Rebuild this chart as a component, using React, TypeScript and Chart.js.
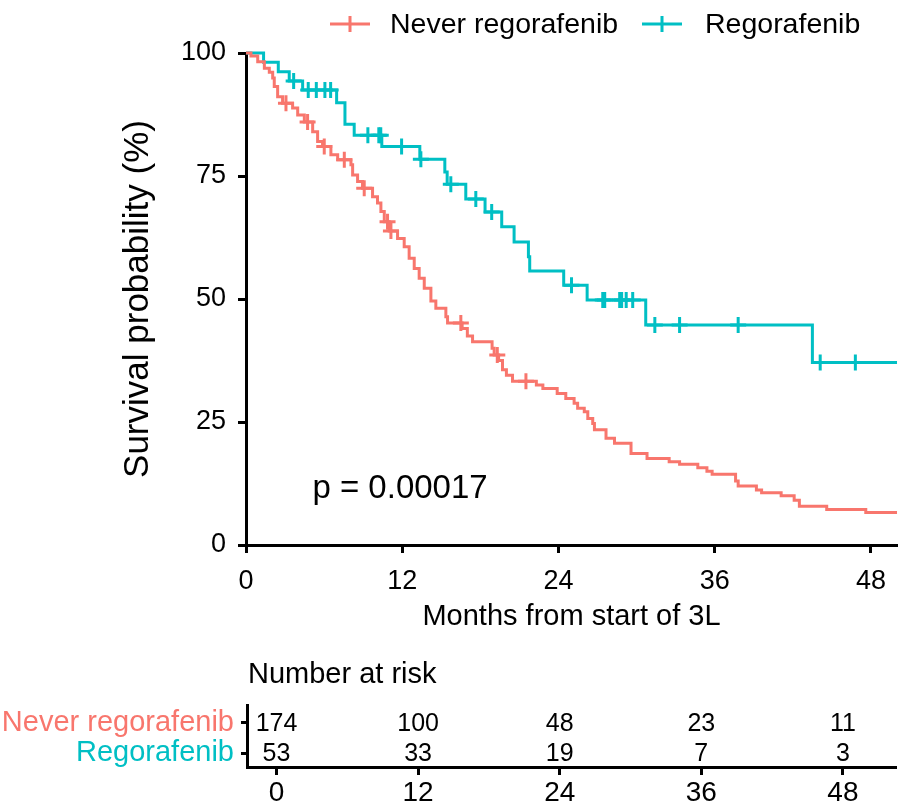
import React, { useEffect, useRef } from 'react';
import { Chart, registerables } from 'chart.js';

Chart.register(...registerables);

const FONT = '"Liberation Sans", Arial, Helvetica, sans-serif';
const RED = '#F8766D';
const TEAL = '#00BFC4';

const groupNames = ['Never regorafenib', 'Regorafenib'];

// Kaplan-Meier steps: month of each drop and survival (%) just after it
const neverTimes = [0, 0.38, 0.9, 1.41, 1.79, 2.05, 2.17, 2.43, 2.81, 3.58, 3.97, 4.48, 5.12, 5.5, 5.88, 6.52, 7.04, 8.06, 8.19, 8.57, 8.95, 9.72, 10.1, 10.36, 10.62, 11.0, 11.64, 12.15, 12.53, 12.92, 13.3, 13.69, 14.2, 14.58, 15.35, 15.48, 16.6, 17.0, 17.4, 18.9, 19.06, 19.4, 19.7, 20.0, 20.47, 22.3, 22.8, 23.9, 24.56, 25.2, 25.47, 25.98, 26.25, 26.63, 26.76, 27.65, 28.3, 29.57, 30.8, 32.5, 33.3, 34.7, 35.4, 35.8, 37.6, 37.8, 39.2, 39.6, 41.1, 42.1, 42.5, 44.6, 47.6];
const neverSurv = [100, 99.4, 98.2, 96.9, 96.1, 94.9, 93.2, 91.1, 89.8, 88.8, 87.4, 86.0, 84.0, 82.0, 81.0, 79.3, 78.3, 77.3, 75.2, 73.9, 72.5, 70.8, 69.5, 67.8, 65.7, 63.8, 62.3, 60.6, 58.3, 56.2, 54.2, 52.2, 49.6, 48.1, 46.4, 45.1, 44.0, 42.5, 41.3, 40.0, 38.6, 37.5, 35.6, 34.5, 33.3, 32.5, 31.8, 30.8, 29.8, 28.8, 27.8, 27.1, 25.7, 24.7, 23.4, 21.7, 20.7, 18.6, 17.6, 16.9, 16.4, 15.7, 15.0, 14.4, 13.0, 12.0, 11.2, 10.6, 10.0, 9.1, 7.9, 7.2, 6.6];
const neverCensor = [3.07, 4.73, 6.01, 7.55, 9.08, 10.87, 11.13, 16.5, 19.3, 21.5];

const regoTimes = [0, 1.35, 2.48, 3.32, 4.35, 6.96, 7.6, 8.31, 10.43, 13.35, 15.27, 15.45, 16.88, 18.36, 19.64, 20.59, 21.69, 21.79, 24.4, 26.2, 30.7, 43.5];
const regoSurv = [100, 98.1, 96.2, 94.3, 92.5, 89.9, 85.5, 83.3, 81.0, 78.4, 75.8, 73.3, 70.3, 67.7, 64.7, 61.6, 58.6, 55.7, 52.8, 49.8, 44.7, 37.1];
const regoCensor = [3.66, 4.78, 5.4, 6.06, 6.5, 9.36, 10.2, 10.35, 11.95, 13.43, 15.73, 17.65, 18.87, 25.0, 27.4, 27.55, 28.7, 28.85, 29.2, 29.7, 31.4, 33.3, 37.8, 44.1, 46.8];

const xTicks = [0, 12, 24, 36, 48];
const yTicks = [0, 25, 50, 75, 100];
const X_MAX = 50;

const riskTimes = [0, 12, 24, 36, 48];
const riskNever = [174, 100, 48, 23, 11];
const riskRego = [53, 33, 19, 7, 3];

const pValueText = 'p = 0.00017';
const pValueAt = { x: 5.1, y: 11.3 };

function stepPoints(times: number[], surv: number[], end: number) {
  const pts: { x: number; y: number }[] = [{ x: times[0], y: surv[0] }];
  for (let i = 1; i < times.length; i++) {
    pts.push({ x: times[i], y: surv[i - 1] });
    pts.push({ x: times[i], y: surv[i] });
  }
  pts.push({ x: end, y: surv[surv.length - 1] });
  return pts;
}

function survAt(times: number[], surv: number[], t: number) {
  let s = surv[0];
  for (let i = 0; i < times.length; i++) if (times[i] <= t) s = surv[i];
  return s;
}

const legendPlugin = {
  id: 'kmLegend',
  afterDraw(chart: any) {
    const ctx = chart.ctx;
    const y = 24;
    const items = [
      { label: groupNames[0], color: RED, lineX: 330, textX: 390 },
      { label: groupNames[1], color: TEAL, lineX: 642, textX: 705 },
    ];
    ctx.save();
    items.forEach((it) => {
      ctx.strokeStyle = it.color;
      ctx.lineWidth = 3;
      ctx.beginPath();
      ctx.moveTo(it.lineX, y);
      ctx.lineTo(it.lineX + 40, y);
      ctx.moveTo(it.lineX + 20, y - 8);
      ctx.lineTo(it.lineX + 20, y + 8);
      ctx.stroke();
      ctx.fillStyle = '#000';
      ctx.font = `28.5px ${FONT}`;
      ctx.textAlign = 'left';
      ctx.textBaseline = 'middle';
      ctx.fillText(it.label, it.textX, y + 1);
    });
    ctx.restore();
  },
};

const pValuePlugin = {
  id: 'pValue',
  afterDatasetsDraw(chart: any) {
    const { ctx, scales } = chart;
    ctx.save();
    ctx.fillStyle = '#000';
    ctx.font = `33px ${FONT}`;
    ctx.textAlign = 'left';
    ctx.textBaseline = 'middle';
    ctx.fillText(pValueText, scales.x.getPixelForValue(pValueAt.x), scales.y.getPixelForValue(pValueAt.y));
    ctx.restore();
  },
};

const riskPlugin = {
  id: 'riskTable',
  afterDatasetsDraw(chart: any) {
    const { ctx, chartArea } = chart;
    ctx.save();
    ctx.fillStyle = '#000';
    ctx.font = `25px ${FONT}`;
    ctx.textAlign = 'center';
    ctx.textBaseline = 'middle';
    [riskNever, riskRego].forEach((row, i) => {
      const meta = chart.getDatasetMeta(i);
      row.forEach((n, j) => {
        const el = meta.data[j];
        ctx.fillText(String(n), el.x, el.y + 1);
      });
    });
    ctx.font = `29px ${FONT}`;
    ctx.textAlign = 'left';
    ctx.fillText('Number at risk', chartArea.left + 1, chartArea.top - 30);
    ctx.restore();
  },
};

export default function App() {
  const mainRef = useRef<HTMLCanvasElement>(null);
  const riskRef = useRef<HTMLCanvasElement>(null);

  useEffect(() => {
    const neverLine = stepPoints(neverTimes, neverSurv, X_MAX);
    const regoLine = stepPoints(regoTimes, regoSurv, X_MAX);
    const neverMarks = neverCensor.map((t) => ({ x: t, y: survAt(neverTimes, neverSurv, t) }));
    const regoMarks = regoCensor.map((t) => ({ x: t, y: survAt(regoTimes, regoSurv, t) }));

    const main = new Chart(mainRef.current as HTMLCanvasElement, {
      type: 'scatter',
      data: {
        datasets: [
          { label: groupNames[0], data: neverLine, showLine: true, borderColor: RED, borderWidth: 3, pointRadius: 0, clip: false as any },
          { label: groupNames[1], data: regoLine, showLine: true, borderColor: TEAL, borderWidth: 3, pointRadius: 0, clip: false as any },
          { label: 'c1', data: neverMarks, showLine: false, pointStyle: 'cross', pointRadius: 8, pointBorderWidth: 3, borderColor: RED, backgroundColor: RED, clip: false as any },
          { label: 'c2', data: regoMarks, showLine: false, pointStyle: 'cross', pointRadius: 8, pointBorderWidth: 3, borderColor: TEAL, backgroundColor: TEAL, clip: false as any },
        ],
      },
      options: {
        responsive: false,
        animation: false,
        events: [],
        layout: { autoPadding: false, padding: { top: 53, left: 0, right: 0, bottom: 0 } },
        plugins: { legend: { display: false }, tooltip: { enabled: false } },
        scales: {
          x: {
            type: 'linear',
            min: 0,
            max: X_MAX,
            afterFit: (s: any) => { s.height = 105; },
            afterBuildTicks: (s: any) => { s.ticks = xTicks.map((v) => ({ value: v })); },
            grid: { drawOnChartArea: false, drawTicks: true, tickLength: 8, tickWidth: 3, tickColor: '#000' },
            border: { display: true, color: '#000', width: 3 },
            ticks: { color: '#000', font: { family: FONT, size: 27 }, padding: 12, maxRotation: 0, autoSkip: false },
            title: { display: true, text: 'Months from start of 3L', color: '#000', font: { family: FONT, size: 29 }, padding: { top: 0, bottom: 16 } },
          },
          y: {
            type: 'linear',
            min: 0,
            max: 100,
            afterFit: (s: any) => { s.width = 246; },
            afterBuildTicks: (s: any) => { s.ticks = yTicks.map((v) => ({ value: v })); },
            grid: { drawOnChartArea: false, drawTicks: true, tickLength: 8, tickWidth: 3, tickColor: '#000' },
            border: { display: true, color: '#000', width: 3 },
            ticks: { color: '#000', font: { family: FONT, size: 27 }, padding: 12 },
            title: { display: true, text: 'Survival probability (%)', color: '#000', font: { family: FONT, size: 35 }, padding: { top: 117, bottom: 0 } },
          },
        },
      },
      plugins: [legendPlugin, pValuePlugin],
    } as any);

    const risk = new Chart(riskRef.current as HTMLCanvasElement, {
      type: 'scatter',
      data: {
        datasets: [
          { label: groupNames[0], data: riskTimes.map((t) => ({ x: t, y: 1 })), pointRadius: 0 },
          { label: groupNames[1], data: riskTimes.map((t) => ({ x: t, y: 2 })), pointRadius: 0 },
        ],
      },
      options: {
        responsive: false,
        animation: false,
        events: [],
        layout: { autoPadding: false, padding: { top: 55, left: 0, right: 2, bottom: 0 } },
        plugins: { legend: { display: false }, tooltip: { enabled: false } },
        scales: {
          x: {
            type: 'linear',
            min: -2.5,
            max: 52.5,
            afterFit: (s: any) => { s.height = 45; },
            afterBuildTicks: (s: any) => { s.ticks = riskTimes.map((v) => ({ value: v })); },
            grid: { drawOnChartArea: false, drawTicks: true, tickLength: 8, tickWidth: 3, tickColor: '#000' },
            border: { display: true, color: '#000', width: 3 },
            ticks: { color: '#000', font: { family: FONT, size: 28 }, padding: 1, maxRotation: 0, autoSkip: false },
          },
          y: {
            type: 'linear',
            reverse: true,
            min: 0.42,
            max: 2.45,
            afterFit: (s: any) => { s.width = 247; },
            afterBuildTicks: (s: any) => { s.ticks = [1, 2].map((v) => ({ value: v })); },
            grid: { drawOnChartArea: false, drawTicks: true, tickLength: 6, tickWidth: 3, tickColor: '#000' },
            border: { display: true, color: '#000', width: 3 },
            ticks: {
              font: { family: FONT, size: 29 },
              padding: 7,
              color: (c: any) => [RED, TEAL][c.index] || '#000',
              callback: (v: any) => groupNames[Number(v) - 1] ?? '',
            },
          },
        },
      },
      plugins: [riskPlugin],
    } as any);

    return () => {
      main.destroy();
      risk.destroy();
    };
  }, []);

  return (
    <div style={{ position: 'fixed', left: 0, top: 0, width: 898, height: 812, background: '#fff' }}>
      <canvas ref={mainRef} width={898} height={650} style={{ position: 'absolute', left: 0, top: 0, width: 898, height: 650 }} />
      <canvas ref={riskRef} width={898} height={162} style={{ position: 'absolute', left: 0, top: 650, width: 898, height: 162 }} />
    </div>
  );
}
